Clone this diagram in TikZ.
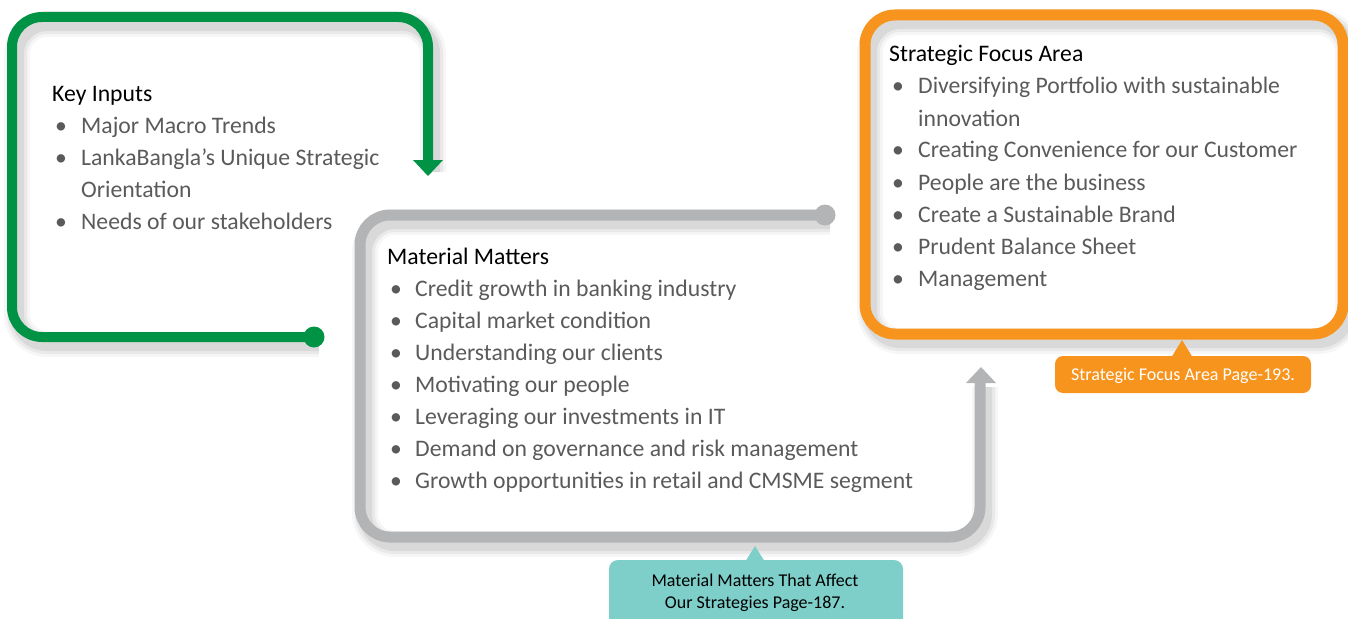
\documentclass[tikz,border=0pt]{standalone}
\usepackage{fontspec}
\setmainfont{Carlito}
\usepackage{array}

\definecolor{kgreen}{RGB}{0,146,69}
\definecolor{mgrey}{RGB}{179,180,182}
\definecolor{forange}{RGB}{247,148,29}
\definecolor{nteal}{RGB}{126,206,201}
\definecolor{itemgrey}{RGB}{90,90,90}

\tikzset{
  boxtext/.style={anchor=base west,inner sep=0pt,text=itemgrey,font=\fontsize{23.7}{32}\selectfont},
  notetext/.style={inner sep=0pt,align=center,font=\fontsize{18}{22}\selectfont},
  soft/.style={black,opacity=#1,rounded corners=30pt,shift={(5,7)}}
}
\newcommand{\bul}{\hspace{3pt}\textbullet}

\begin{document}
\begin{tikzpicture}[x=1pt,y=-1pt]
  \useasboundingbox (0,0) rectangle (1348,618);
  % soft shadows under the three frames
  \foreach \w/\o in {26/0.035,20/0.05,14/0.07} {
    \draw[soft=\o,line width=\w pt] (314,337) -- (12,337) -- (12,17) -- (428,17) -- (428,165);
    \draw[soft=\o,line width=\w pt] (825,215) -- (360,215) -- (360,537) -- (980,537) -- (980,380);
    \draw[soft=\o,line width=\w pt] (865,15) rectangle (1343,334);
  }
  % green frame
  \draw[kgreen,line width=10pt,rounded corners=30pt] (314,337) -- (12,337) -- (12,17) -- (428,17) -- (428,162);
  \fill[kgreen] (314,337) circle (10.5pt);
  \fill[kgreen] (413,160) -- (443,160) -- (428,176) -- cycle;
  % grey frame
  \draw[mgrey,line width=11pt,rounded corners=30pt] (825,215) -- (360,215) -- (360,537) -- (980,537) -- (980,381);
  \fill[mgrey] (825,215) circle (10.5pt);
  \fill[mgrey] (966,383) -- (996,383) -- (981,367) -- cycle;
  % orange frame
  \draw[forange,line width=11pt,rounded corners=30pt] (865,15) rectangle (1343,334);

  \node[boxtext] (keyin) at (52,101) {\begin{tabular}[t]{@{}p{29pt}@{}l@{}}
    \multicolumn{2}{@{}l@{}}{\color{black}Key Inputs}\\
    \bul & Major Macro Trends\\
    \bul & LankaBangla’s Unique Strategic\\
         & Orientation\\
    \bul & Needs of our stakeholders
  \end{tabular}};

  \node[boxtext] (matter) at (387,264) {\begin{tabular}[t]{@{}p{28pt}@{}l@{}}
    \multicolumn{2}{@{}l@{}}{\color{black}Material Matters}\\
    \bul & Credit growth in banking industry\\
    \bul & Capital market condition\\
    \bul & Understanding our clients\\
    \bul & Motivating our people\\
    \bul & Leveraging our investments in IT\\
    \bul & Demand on governance and risk management\\
    \bul & Growth opportunities in retail and CMSME segment
  \end{tabular}};

  \node[boxtext] (focus) at (889,62) {\begin{tabular}[t]{@{}p{29pt}@{}l@{}}
    \multicolumn{2}{@{}l@{}}{\color{black}Strategic Focus Area}\\
    \bul & Diversifying Portfolio with sustainable\\
         & innovation\\
    \bul & Creating Convenience for our Customer\\
    \bul & People are the business\\
    \bul & Create a Sustainable Brand\\
    \bul & Prudent Balance Sheet\\
    \bul & Management
  \end{tabular}};

  % page notes
  \fill[nteal,rounded corners=9pt] (609,560) rectangle (903,640);
  \fill[nteal] (745,562) -- (755,546) -- (765,562) -- cycle;
  \node[notetext] (mmnote) at (755,593) {Material Matters That Affect\\Our Strategies Page-187.};

  \fill[forange,rounded corners=8pt] (1055,356) rectangle (1311,393);
  \fill[forange] (1171,358) -- (1182,340) -- (1193,358) -- cycle;
  \node[notetext,text=white] (sfnote) at (1183,376) {Strategic Focus Area Page-193.};
\end{tikzpicture}
\end{document}
